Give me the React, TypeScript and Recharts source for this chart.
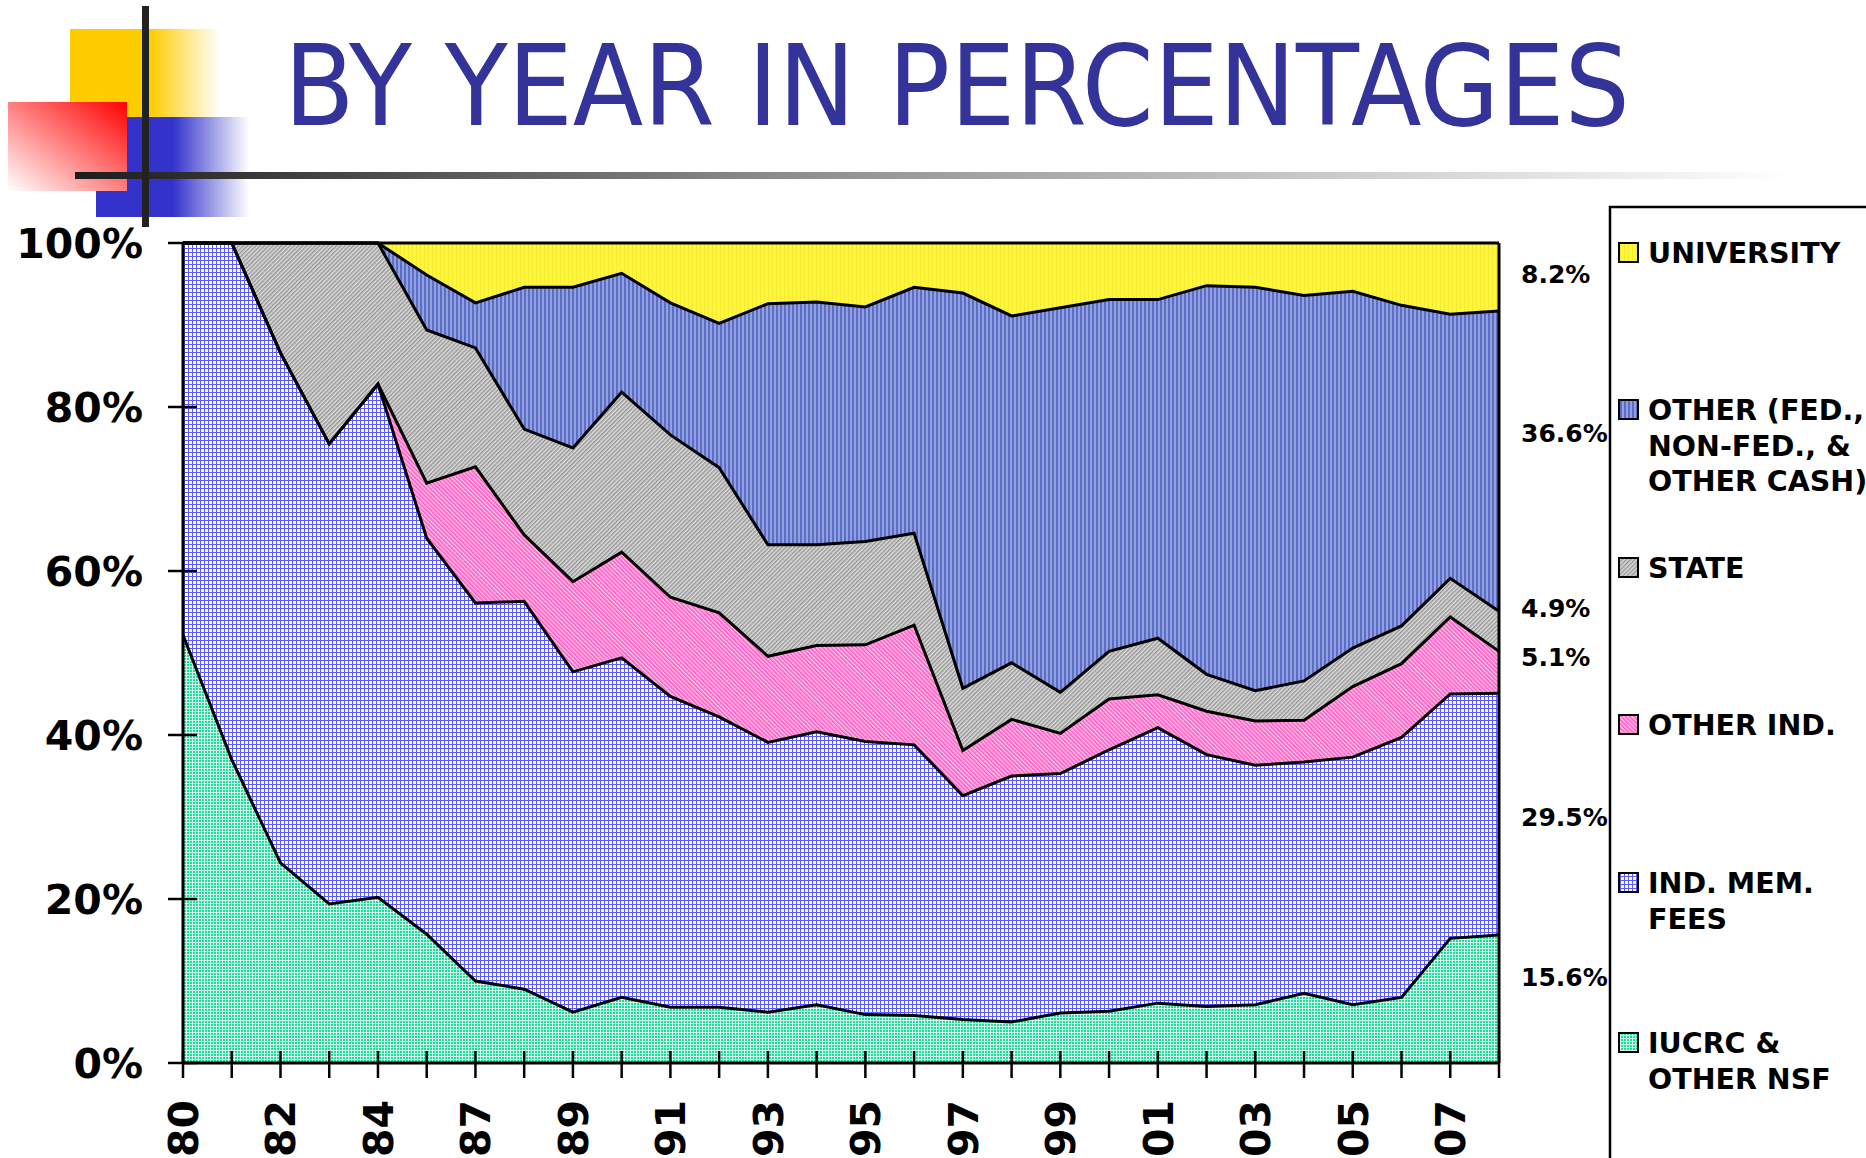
import React from 'react';
import { AreaChart, Area, XAxis, YAxis, ReferenceLine, ReferenceDot } from 'recharts';

const years = ["80","81","82","83","84","86","87","88","89","90","91","92","93","94","95","96","97","98","99","00","'01","'02","'03","'04","'05","'06","'07","'08"];
const iucrcNsf = [52.2,37.0,24.4,19.4,20.2,15.7,10.0,9.0,6.2,8.0,6.8,6.8,6.2,7.1,5.9,5.8,5.3,5.0,6.1,6.3,7.3,6.9,7.1,8.5,7.1,8.0,15.2,15.6];
const indMemFees = [47.8,63.0,62.2,56.1,62.6,48.3,46.1,47.3,41.5,41.4,37.9,35.4,32.9,33.3,33.3,33.0,27.3,30.0,29.2,31.9,33.6,30.7,29.2,28.2,30.2,31.7,29.8,29.5];
const otherInd = [0,0,0,0,0,6.7,16.6,8.1,11.0,12.9,12.1,12.7,10.5,10.5,11.8,14.6,5.5,6.9,4.9,6.2,4.0,5.3,5.4,5.1,8.6,9.0,9.4,5.1];
const stateFunds = [0,0,13.4,24.5,17.2,18.7,14.5,12.9,16.3,19.5,19.8,17.7,13.6,12.3,12.6,11.2,7.6,6.9,5.0,5.8,6.9,4.5,3.7,4.8,4.7,4.6,4.7,4.9];
const otherFunds = [0,0,0,0,0,6.7,5.5,17.3,19.6,14.5,16.1,17.6,29.4,29.6,28.6,30.0,48.2,42.3,46.9,42.9,41.3,47.4,49.2,47.0,43.5,39.1,32.2,36.6];
const university = [0,0,0,0,0,3.9,7.3,5.4,5.4,3.7,7.3,9.8,7.4,7.2,7.8,5.4,6.1,8.9,7.9,6.9,6.9,5.2,5.4,6.4,5.9,7.6,8.7,8.3];

const yTicks = [0, 20, 40, 60, 80, 100];
const endLabels = ["8.2%", "36.6%", "4.9%", "5.1%", "29.5%", "15.6%"];
const endLabelY = [96.2, 76.8, 55.5, 49.5, 30.0, 10.5];

const seriesKeys = ["nsf", "mem", "oind", "state", "other", "univ"];
const legendKeys = ["univ", "other", "state", "oind", "mem", "nsf"];
const legendNames = [["UNIVERSITY"], ["OTHER (FED.,", "NON-FED., &", "OTHER CASH)"], ["STATE"], ["OTHER IND."], ["IND. MEM.", "FEES"], ["IUCRC &", "OTHER NSF"]];
const legendBaselines = [263, 420, 578, 735, 893, 1053];

const data = years.map((y, i) => ({
  year: y,
  nsf: iucrcNsf[i],
  mem: indMemFees[i],
  oind: otherInd[i],
  state: stateFunds[i],
  other: otherFunds[i],
  univ: university[i],
}));

const FONT = '"DejaVu Sans", Verdana, sans-serif';

const Patterns = ({ p }: { p: string }) => (
  <defs>
    <pattern id={p + 'univ'} width="4" height="4" patternUnits="userSpaceOnUse">
      <rect width="4" height="4" fill="#FFF63C" />
      <rect width="1" height="4" fill="#F3EA34" />
    </pattern>
    <pattern id={p + 'other'} width="4" height="4" patternUnits="userSpaceOnUse">
      <rect width="4" height="4" fill="#90A0E2" />
      <rect width="2" height="4" fill="#5C6EC4" />
    </pattern>
    <pattern id={p + 'state'} width="3" height="3" patternUnits="userSpaceOnUse" patternTransform="rotate(45)">
      <rect width="3" height="3" fill="#DCDCDC" />
      <rect width="1.5" height="3" fill="#989898" />
    </pattern>
    <pattern id={p + 'oind'} width="3" height="3" patternUnits="userSpaceOnUse" patternTransform="rotate(-45)">
      <rect width="3" height="3" fill="#FFC4EA" />
      <rect width="1.6" height="3" fill="#FF5CC4" />
    </pattern>
    <pattern id={p + 'mem'} width="4" height="4" patternUnits="userSpaceOnUse">
      <rect width="4" height="4" fill="#FFFFFF" />
      <rect width="4" height="1" fill="#5A5AFF" />
      <rect width="1" height="4" fill="#5A5AFF" />
    </pattern>
    <pattern id={p + 'nsf'} width="3" height="3" patternUnits="userSpaceOnUse">
      <rect width="3" height="3" fill="#1EDC9E" />
      <rect width="3" height="1" fill="#D2F8EA" />
      <rect width="1" height="3" fill="#D2F8EA" />
    </pattern>
    <linearGradient id={p + 'hline'} x1="0" y1="0" x2="1" y2="0">
      <stop offset="0" stopColor="#1c1c1c" />
      <stop offset="0.4" stopColor="#8a8a8a" />
      <stop offset="1" stopColor="#ffffff" />
    </linearGradient>
    <linearGradient id={p + 'yel'} x1="0" y1="0" x2="1" y2="0">
      <stop offset="0" stopColor="#FFCC00" stopOpacity="1" />
      <stop offset="1" stopColor="#FFCC00" stopOpacity="0" />
    </linearGradient>
    <linearGradient id={p + 'blu'} x1="0" y1="0" x2="1" y2="0">
      <stop offset="0" stopColor="#3333CC" stopOpacity="1" />
      <stop offset="1" stopColor="#3333CC" stopOpacity="0" />
    </linearGradient>
    <linearGradient id={p + 'red'} x1="1" y1="0" x2="0" y2="1">
      <stop offset="0" stopColor="#FF0000" stopOpacity="1" />
      <stop offset="1" stopColor="#FF0000" stopOpacity="0" />
    </linearGradient>
  </defs>
);

const XTick = (props: any) => {
  const { x, y, payload } = props;
  const idx = props.index ?? payload.index ?? 0;
  return (
    <g>
      <line x1={x} x2={x} y1={y - 12} y2={y + 15} stroke="#000" strokeWidth={2.5} />
      {idx % 2 === 0 && (
        <text
          transform={`translate(${x},${y + 37}) rotate(-90)`}
          textAnchor="end"
          dy="0.36em"
          fontFamily={FONT}
          fontWeight="bold"
          fontSize={41}
          fill="#000"
        >
          {payload.value}
        </text>
      )}
    </g>
  );
};

const YTick = (props: any) => {
  const { x, y, payload } = props;
  return (
    <g>
      <line x1={x - 15} x2={x + 14} y1={y} y2={y} stroke="#000" strokeWidth={2.5} />
      <text x={x - 40} y={y} dy="0.36em" textAnchor="end" fontFamily={FONT} fontWeight="bold" fontSize={41} fill="#000">
        {payload.value}%
      </text>
    </g>
  );
};

export default function App() {
  return (
    <div style={{ position: 'absolute', left: 0, top: 0, width: 1866, height: 1158, background: '#fff', overflow: 'hidden' }}>
      <AreaChart
        width={1866}
        height={1158}
        data={data}
        margin={{ top: 243, right: 367, left: 0, bottom: 0 }}
      >
        <Patterns p="c-" />
        <XAxis
          dataKey="year"
          interval={0}
          height={95}
          tickSize={0}
          tickMargin={0}
          tickLine={false}
          axisLine={{ stroke: '#000', strokeWidth: 3 }}
          tick={<XTick />}
        />
        <YAxis
          domain={[0, 100]}
          ticks={yTicks}
          interval={0}
          width={183}
          tickSize={0}
          tickMargin={0}
          tickLine={false}
          axisLine={{ stroke: '#000', strokeWidth: 3 }}
          tick={<YTick />}
        />
        {seriesKeys.map((k) => (
          <Area
            key={'f' + k}
            dataKey={k}
            stackId="fill"
            type="linear"
            fill={`url(#c-${k})`}
            fillOpacity={1}
            stroke="none"
            isAnimationActive={false}
            dot={false}
            activeDot={false}
          />
        ))}
        {seriesKeys.map((k) => (
          <Area
            key={'s' + k}
            dataKey={k}
            stackId="line"
            type="linear"
            fill="none"
            stroke="#000"
            strokeWidth={3}
            isAnimationActive={false}
            dot={false}
            activeDot={false}
          />
        ))}
        <ReferenceLine x="'08" stroke="#000" strokeWidth={3} />
        {endLabels.map((t, i) => (
          <ReferenceDot
            key={t}
            x="'08"
            y={endLabelY[i]}
            r={1}
            fill="none"
            stroke="none"
            label={{ value: t, position: 'right', offset: 21, fontFamily: FONT, fontWeight: 'bold', fontSize: 25, fill: '#000' }}
          />
        ))}
      </AreaChart>

      <svg width={1866} height={1158} style={{ position: 'absolute', left: 0, top: 0, pointerEvents: 'none' }}>
        <Patterns p="o-" />
        <rect x={70} y={29} width={80} height={88} fill="#FFCC00" />
        <rect x={150} y={29} width={70} height={88} fill="url(#o-yel)" />
        <rect x={96} y={117} width={77} height={100} fill="#3333CC" />
        <rect x={173} y={117} width={76} height={100} fill="url(#o-blu)" />
        <rect x={8} y={102} width={119} height={89} fill="#FFFFFF" />
        <rect x={8} y={102} width={119} height={89} fill="url(#o-red)" />
        <rect x={75} y={172} width={1715} height={7} fill="url(#o-hline)" />
        <rect x={142} y={6} width={7} height={221} fill="#222222" />
        <text
          x={284}
          y={125}
          fontFamily={FONT}
          fontSize={112}
          fill="#333399"
          textLength={1346}
          lengthAdjust="spacingAndGlyphs"
        >
          BY YEAR IN PERCENTAGES
        </text>

        <rect x={1610} y={207} width={300} height={1000} fill="none" stroke="#000" strokeWidth={2.5} />
        {legendKeys.map((k, i) => (
          <g key={k}>
            <rect x={1619} y={legendBaselines[i] - 20} width={19} height={19} fill={`url(#o-${k})`} stroke="#000" strokeWidth={2} />
            {legendNames[i].map((line, j) => (
              <text
                key={j}
                x={1648}
                y={legendBaselines[i] + j * 35.5}
                fontFamily={FONT}
                fontWeight="bold"
                fontSize={28.5}
                fill="#000"
              >
                {line}
              </text>
            ))}
          </g>
        ))}
      </svg>
    </div>
  );
}
